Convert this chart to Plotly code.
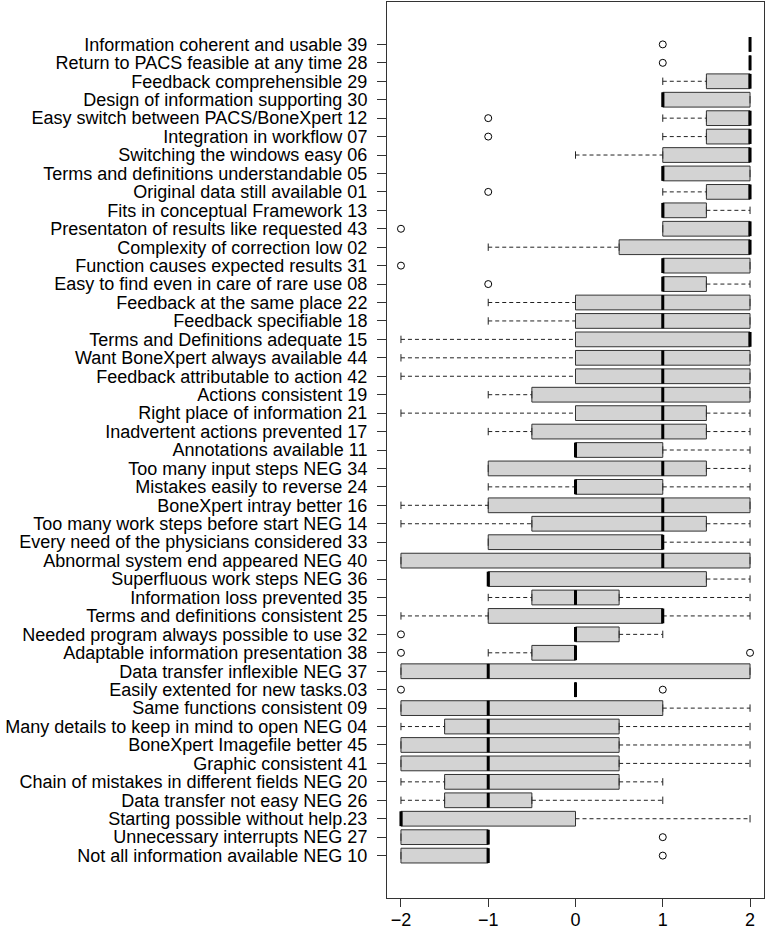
import plotly.graph_objects as go

# Categories listed top to bottom
labels = [
    "Information coherent and usable 39",
    "Return to PACS feasible at any time 28",
    "Feedback comprehensible 29",
    "Design of information supporting 30",
    "Easy switch between PACS/BoneXpert 12",
    "Integration in workflow 07",
    "Switching the windows easy 06",
    "Terms and definitions understandable 05",
    "Original data still available 01",
    "Fits in conceptual Framework 13",
    "Presentaton of results like requested 43",
    "Complexity of correction low 02",
    "Function causes expected results 31",
    "Easy to find even in care of rare use 08",
    "Feedback at the same place 22",
    "Feedback specifiable 18",
    "Terms and Definitions adequate 15",
    "Want BoneXpert always available 44",
    "Feedback attributable to action 42",
    "Actions consistent 19",
    "Right place of information 21",
    "Inadvertent actions prevented 17",
    "Annotations available 11",
    "Too many input steps NEG 34",
    "Mistakes easily to reverse 24",
    "BoneXpert intray better 16",
    "Too many work steps before start NEG 14",
    "Every need of the physicians considered 33",
    "Abnormal system end appeared NEG 40",
    "Superfluous work steps NEG 36",
    "Information loss prevented 35",
    "Terms and definitions consistent 25",
    "Needed program always possible to use 32",
    "Adaptable information presentation 38",
    "Data transfer inflexible NEG 37",
    "Easily extented for new tasks.03",
    "Same functions consistent 09",
    "Many details to keep in mind to open NEG 04",
    "BoneXpert Imagefile better 45",
    "Graphic consistent 41",
    "Chain of mistakes in different fields NEG 20",
    "Data transfer not easy NEG 26",
    "Starting possible without help.23",
    "Unnecessary interrupts NEG 27",
    "Not all information available NEG 10",
]

lower = [2, 2, 1, 1, 1, 1, 0, 1, 1, 1, 1, -1, 1, 1, -1, -1, -2, -2, -2, -1, -2, -1, 0, -1, -1,
         -2, -2, -1, -2, -1, -1, -2, 0, -1, -2, 0, -2, -2, -2, -2, -2, -2, -2, -2, -2]
q1 = [2, 2, 1.5, 1, 1.5, 1.5, 1, 1, 1.5, 1, 1, 0.5, 1, 1, 0, 0, 0, 0, 0, -0.5, 0, -0.5, 0, -1, 0,
      -1, -0.5, -1, -2, -1, -0.5, -1, 0, -0.5, -2, 0, -2, -1.5, -2, -2, -1.5, -1.5, -2, -2, -2]
median = [2, 2, 2, 1, 2, 2, 2, 1, 2, 1, 2, 2, 1, 1, 1, 1, 2, 1, 1, 1, 1, 1, 0, 1, 0,
          1, 1, 1, 1, -1, 0, 1, 0, 0, -1, 0, -1, -1, -1, -1, -1, -1, -2, -1, -1]
q3 = [2, 2, 2, 2, 2, 2, 2, 2, 2, 1.5, 2, 2, 2, 1.5, 2, 2, 2, 2, 2, 2, 1.5, 1.5, 1, 1.5, 1,
      2, 1.5, 1, 2, 1.5, 0.5, 1, 0.5, 0, 2, 0, 1, 0.5, 0.5, 0.5, 0.5, -0.5, 0, -1, -1]
upper = [2, 2, 2, 2, 2, 2, 2, 2, 2, 2, 2, 2, 2, 2, 2, 2, 2, 2, 2, 2, 2, 2, 2, 2, 2,
         2, 2, 2, 2, 2, 2, 2, 1, 0, 2, 0, 2, 2, 2, 2, 1, 1, 2, -1, -1]
outliers = [[1], [1], [], [], [-1], [-1], [], [], [-1], [], [-2], [], [-2], [-1], [], [], [], [], [], [],
            [], [], [], [], [], [], [], [], [], [], [], [], [-2], [-2, 2], [], [-2, 1], [], [], [], [],
            [], [], [], [1], [1]]

x_ticks = [-2, -1, 0, 1, 2]

n = len(labels)
pos = [n - i for i in range(n)]  # top item gets highest position

fig = go.Figure()

# Boxes (whiskers drawn separately, dashed, R style)
fig.add_trace(go.Box(
    y=pos, q1=q1, median=median, q3=q3, lowerfence=q1, upperfence=q3,
    orientation="h", width=0.8,
    fillcolor="#D3D3D3", line=dict(color="#333333", width=1),
    boxpoints=False, showlegend=False, hoverinfo="skip",
))

# Dashed whiskers
wx, wy = [], []
for p, lo, a, b, hi in zip(pos, lower, q1, q3, upper):
    if lo < a:
        wx += [lo, a, None]; wy += [p, p, None]
    if hi > b:
        wx += [b, hi, None]; wy += [p, p, None]
fig.add_trace(go.Scatter(x=wx, y=wy, mode="lines",
                         line=dict(color="#222222", width=1, dash="4px,3px"),
                         showlegend=False, hoverinfo="skip"))

# Staples
sx, sy = [], []
for p, lo, a, b, hi in zip(pos, lower, q1, q3, upper):
    if lo < a:
        sx += [lo, lo, None]; sy += [p - 0.2, p + 0.2, None]
    if hi > b:
        sx += [hi, hi, None]; sy += [p - 0.2, p + 0.2, None]
fig.add_trace(go.Scatter(x=sx, y=sy, mode="lines",
                         line=dict(color="#222222", width=1),
                         showlegend=False, hoverinfo="skip"))

# Thick medians
mx, my = [], []
for p, m in zip(pos, median):
    mx += [m, m, None]; my += [p - 0.4, p + 0.4, None]
fig.add_trace(go.Scatter(x=mx, y=my, mode="lines",
                         line=dict(color="black", width=3),
                         showlegend=False, hoverinfo="skip"))

# Outliers
ox, oy = [], []
for p, outs in zip(pos, outliers):
    for o in outs:
        ox.append(o); oy.append(p)
fig.add_trace(go.Scatter(x=ox, y=oy, mode="markers",
                         marker=dict(symbol="circle-open", size=7, color="black",
                                     line=dict(width=1)),
                         showlegend=False, hoverinfo="skip"))

fig.update_layout(
    width=767, height=929,
    margin=dict(l=387, r=3, t=2, b=31, autoexpand=False),
    plot_bgcolor="white", paper_bgcolor="white",
    font=dict(family="Liberation Sans, Arial, sans-serif", size=18, color="black"),
    showlegend=False,
)
fig.update_xaxes(
    range=[-2.16, 2.16], tickvals=x_ticks,
    ticks="outside", ticklen=8, tickcolor="#333333", ticklabelstandoff=-3,
    showline=True, linecolor="#333333", linewidth=1, mirror=True,
    showgrid=False, zeroline=False, tickfont=dict(size=18),
    automargin=False,
)
fig.update_yaxes(
    range=[-1.3, 47.3], tickvals=pos, ticktext=labels,
    ticks="outside", ticklen=9, tickcolor="#333333", ticklabelstandoff=6,
    showline=True, linecolor="#333333", linewidth=1, mirror=True,
    showgrid=False, zeroline=False, tickfont=dict(size=18),
    automargin=False,
)

fig.write_html(
    "out.html",
    config={"displayModeBar": False},
    post_script="document.body.style.margin='0';document.body.style.padding='0';",
)
